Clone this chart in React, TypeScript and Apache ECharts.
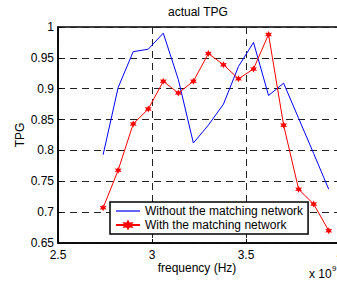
import React, { useEffect, useRef } from "react";
import * as echarts from "echarts";

const frequencies = [2.74, 2.82, 2.9, 2.98, 3.06, 3.14, 3.22, 3.3, 3.38, 3.46, 3.54, 3.62, 3.7, 3.78, 3.86, 3.94];
const withoutMatching = [0.793, 0.902, 0.96, 0.964, 0.99, 0.915, 0.812, 0.841, 0.875, 0.936, 0.975, 0.889, 0.909, 0.852, 0.795, 0.737];
const withMatching = [0.707, 0.768, 0.843, 0.867, 0.912, 0.893, 0.912, 0.957, 0.939, 0.916, 0.932, 0.988, 0.841, 0.737, 0.713, 0.67];
const seriesNames = ["Without the matching network", "With the matching network"];
const xTicks = { min: 2.5, max: 4, interval: 0.5 };
const yTicks = { min: 0.65, max: 1, interval: 0.05 };

const FONT = "Liberation Sans, Arial, sans-serif";
const STAR =
  "path://M0,-10 L2.5,-4.3 L8.7,-5 L5,0 L8.7,5 L2.5,4.3 L0,10 L-2.5,4.3 L-8.7,5 L-5,0 L-8.7,-5 L-2.5,-4.3 Z";
const LINE_ICON = "path://M0,0 L240,0 L240,12 L0,12 Z";

export default function App() {
  const ref = useRef<HTMLDivElement>(null);
  useEffect(() => {
    if (!ref.current) return;
    const chart = echarts.init(ref.current, undefined, { renderer: "svg" });
    const dash = { color: "#222", width: 1, type: [7, 5] as any };
    chart.setOption({
      animation: false,
      backgroundColor: "#fff",
      textStyle: { fontFamily: FONT },
      grid: {
        left: 58,
        top: 27,
        right: -3,
        bottom: 39,
        outerBoundsMode: "none",
        containLabel: false,
        show: true,
        borderColor: "#000",
        borderWidth: 1.5,
        backgroundColor: "transparent",
      },
      xAxis: {
        type: "value",
        min: xTicks.min,
        max: xTicks.max,
        interval: xTicks.interval,
        axisLine: { show: true, onZero: false, lineStyle: { color: "#000", width: 1.5 } },
        axisTick: { show: true, inside: true, length: 4, lineStyle: { color: "#000" } },
        axisLabel: {
          color: "#000",
          fontSize: 12,
          fontFamily: FONT,
          margin: 6,
          hideOverlap: false,
          formatter: (v: number) => String(+v.toFixed(2)),
        },
        splitLine: { show: true, lineStyle: dash },
      },
      yAxis: {
        type: "value",
        min: yTicks.min,
        max: yTicks.max,
        interval: yTicks.interval,
        axisLine: { show: true, onZero: false, lineStyle: { color: "#000", width: 1.5 } },
        axisTick: { show: true, inside: true, length: 4, lineStyle: { color: "#000" } },
        axisLabel: {
          color: "#000",
          fontSize: 12,
          fontFamily: FONT,
          margin: 4,
          formatter: (v: number) => String(+v.toFixed(2)),
        },
        splitLine: { show: true, lineStyle: dash },
      },
      legend: {
        orient: "vertical",
        left: 110,
        top: 202,
        padding: [3, 5, 3, 5],
        itemGap: 2,
        itemWidth: 24,
        itemHeight: 14,
        borderColor: "#000",
        borderWidth: 1.5,
        backgroundColor: "#fff",
        borderRadius: 0,
        textStyle: { color: "#000", fontSize: 12, fontFamily: FONT },
        data: [
          { name: seriesNames[0], icon: LINE_ICON, itemStyle: { color: "#0000ff" } },
          { name: seriesNames[1] },
        ],
      },
      series: [
        {
          name: seriesNames[0],
          type: "line",
          data: frequencies.map((f, i) => [f, withoutMatching[i]]),
          showSymbol: false,
          symbol: "none",
          lineStyle: { color: "#0000ff", width: 1 },
          itemStyle: { color: "#0000ff" },
          z: 3,
        },
        {
          name: seriesNames[1],
          type: "line",
          data: frequencies.map((f, i) => [f, withMatching[i]]),
          symbol: STAR,
          symbolSize: 7,
          lineStyle: { color: "#ff0000", width: 1 },
          itemStyle: { color: "#ff0000" },
          z: 4,
        },
      ],
      graphic: [
        {
          type: "text",
          left: 198 - 30,
          top: 6,
          style: { text: "actual TPG", fill: "#000", font: `12px ${FONT}` },
        },
        {
          type: "text",
          x: 197,
          y: 268,
          style: {
            text: "frequency (Hz)",
            fill: "#000",
            font: `12px ${FONT}`,
            textAlign: "center",
            textVerticalAlign: "middle",
          },
        },
        {
          type: "text",
          x: 20,
          y: 135,
          rotation: Math.PI / 2,
          style: {
            text: "TPG",
            fill: "#000",
            font: `12px ${FONT}`,
            textAlign: "center",
            textVerticalAlign: "middle",
          },
        },
        {
          type: "text",
          x: 309,
          y: 274,
          style: {
            text: "x 10",
            fill: "#000",
            font: `12px ${FONT}`,
            textAlign: "left",
            textVerticalAlign: "middle",
          },
        },
        {
          type: "text",
          x: 332,
          y: 268,
          style: {
            text: "9",
            fill: "#000",
            font: `8px ${FONT}`,
            textAlign: "left",
            textVerticalAlign: "middle",
          },
        },
      ],
    });
    return () => chart.dispose();
  }, []);
  return (
    <div
      ref={ref}
      style={{ position: "fixed", left: 0, top: 0, width: 337, height: 282, background: "#fff" }}
    />
  );
}
